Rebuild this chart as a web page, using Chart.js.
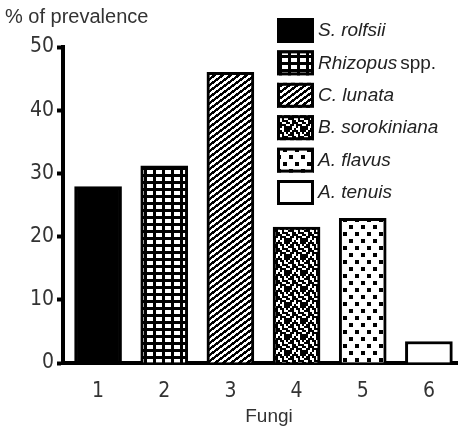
<!DOCTYPE html>
<html>
<head>
<meta charset="utf-8">
<script src="https://cdn.jsdelivr.net/npm/chart.js@4/dist/chart.umd.min.js"></script>
<style>
  html, body { margin: 0; padding: 0; background: #fff; }
  #wrap { width: 458px; height: 430px; position: relative; }
</style>
</head>
<body>
<div id="wrap"><canvas id="grafico"></canvas></div>
<script>
const categorias = [1, 2, 3, 4, 5, 6];
const fungos = ['S. rolfsii', 'Rhizopus spp.', 'C. lunata', 'B. sorokiniana', 'A. flavus', 'A. tenuis'];
const prevalencia = [27.9, 31.2, 46.0, 21.5, 22.9, 3.4];
const yTicks = [0, 10, 20, 30, 40, 50];

const fonteNum = '"Liberation Sans Narrow", "DejaVu Sans Condensed", "Liberation Sans", sans-serif';
const fonteTxt = '"Liberation Sans", Arial, sans-serif';

const ctx = document.getElementById('grafico').getContext('2d');

// tile -> pattern
function padrao(w, h, desenha) {
  const c = document.createElement('canvas');
  c.width = w; c.height = h;
  const g = c.getContext('2d');
  g.fillStyle = '#fff';
  g.fillRect(0, 0, w, h);
  g.fillStyle = '#000';
  desenha(g, w, h);
  return ctx.createPattern(c, 'repeat');
}

const ruido = [
  '11010011',
  '10111011',
  '01101101',
  '11100100',
  '00110111',
  '10111001',
  '01101110',
  '11001011'
];

const padroes = [
  '#000',
  padrao(9, 7, (g) => { g.fillRect(0, 0, 9, 7); g.fillStyle = '#fff'; g.fillRect(3, 2, 6, 4); }),
  padrao(8, 6, (g) => {
    for (let x = 0; x < 8; x++) for (let y = 0; y < 6; y++) if ((3 * x + 4 * y) % 24 < 12) g.fillRect(x, y, 1, 1);
  }),
  padrao(16, 16, (g) => {
    ruido.forEach((linha, r) => [...linha].forEach((b, c) => { if (b === '1') g.fillRect(c * 2, r * 2, 2, 2); }));
  }),
  padrao(12, 14, (g) => {
    g.fillRect(1, 1, 4, 4); g.fillRect(7, 8, 4, 4);
  }),
  '#fff'
];

const legenda = {
  id: 'legenda',
  afterDraw(chart) {
    const c = chart.ctx;
    c.save();
    fungos.forEach((nome, i) => {
      const y = 18 + i * 32.4;
      c.fillStyle = padroes[i];
      c.fillRect(277, y, 37, 25);
      c.lineWidth = 3;
      c.strokeStyle = '#000';
      c.strokeRect(278.5, y + 1.5, 34, 22);
      const partes = nome.split(' spp.');
      c.fillStyle = '#222';
      c.textBaseline = 'middle';
      c.textAlign = 'left';
      c.font = 'italic 19px ' + fonteTxt;
      c.fillText(partes[0], 318, y + 13);
      if (partes.length > 1) {
        const w = c.measureText(partes[0]).width;
        c.font = '19px ' + fonteTxt;
        c.fillText('spp.', 318 + w + 3, y + 13);
      }
    });
    // axis title, a little right of the plot centre as in the original
    c.font = '19px ' + fonteTxt;
    c.fillStyle = '#333';
    c.textAlign = 'center';
    c.textBaseline = 'middle';
    c.fillText('Fungi', 269, 417);
    c.restore();
  }
};

new Chart(ctx, {
  type: 'bar',
  data: {
    labels: categorias,
    datasets: [{
      data: prevalencia,
      backgroundColor: padroes,
      borderColor: '#000',
      borderWidth: 3,
      barThickness: 47
    }]
  },
  options: {
    responsive: true,
    maintainAspectRatio: false,
    animation: false,
    layout: { padding: { left: 5, right: 0, top: 0, bottom: 0 } },
    plugins: {
      legend: { display: false },
      tooltip: { enabled: false },
      title: {
        display: true,
        text: '% of prevalence',
        align: 'start',
        color: '#333',
        font: { family: fonteTxt, size: 20, weight: 'normal' },
        padding: { top: 5, bottom: 18 }
      }
    },
    scales: {
      x: {
        type: 'linear',
        min: 0.47,
        max: 6.44,
        offset: false,
        afterBuildTicks: (s) => { s.ticks = categorias.map(v => ({ value: v })); },
        afterFit: (s) => { s.height = 67; },
        grid: { display: false, drawTicks: false, offset: false },
        border: { display: true, color: '#000', width: 4 },
        ticks: { padding: 16, color: '#333', font: { family: fonteNum, size: 21 } }
      },
      y: {
        min: 0,
        max: 50,
        afterBuildTicks: (s) => { s.ticks = yTicks.map(v => ({ value: v })); },
        afterFit: (s) => { s.width = 58; },
        grid: { drawOnChartArea: false, drawTicks: true, tickLength: 6, tickWidth: 4, tickColor: '#000' },
        border: { color: '#000', width: 4 },
        ticks: { padding: 3, color: '#333', font: { family: fonteNum, size: 21 } }
      }
    }
  },
  plugins: [legenda]
});
</script>
</body>
</html>
